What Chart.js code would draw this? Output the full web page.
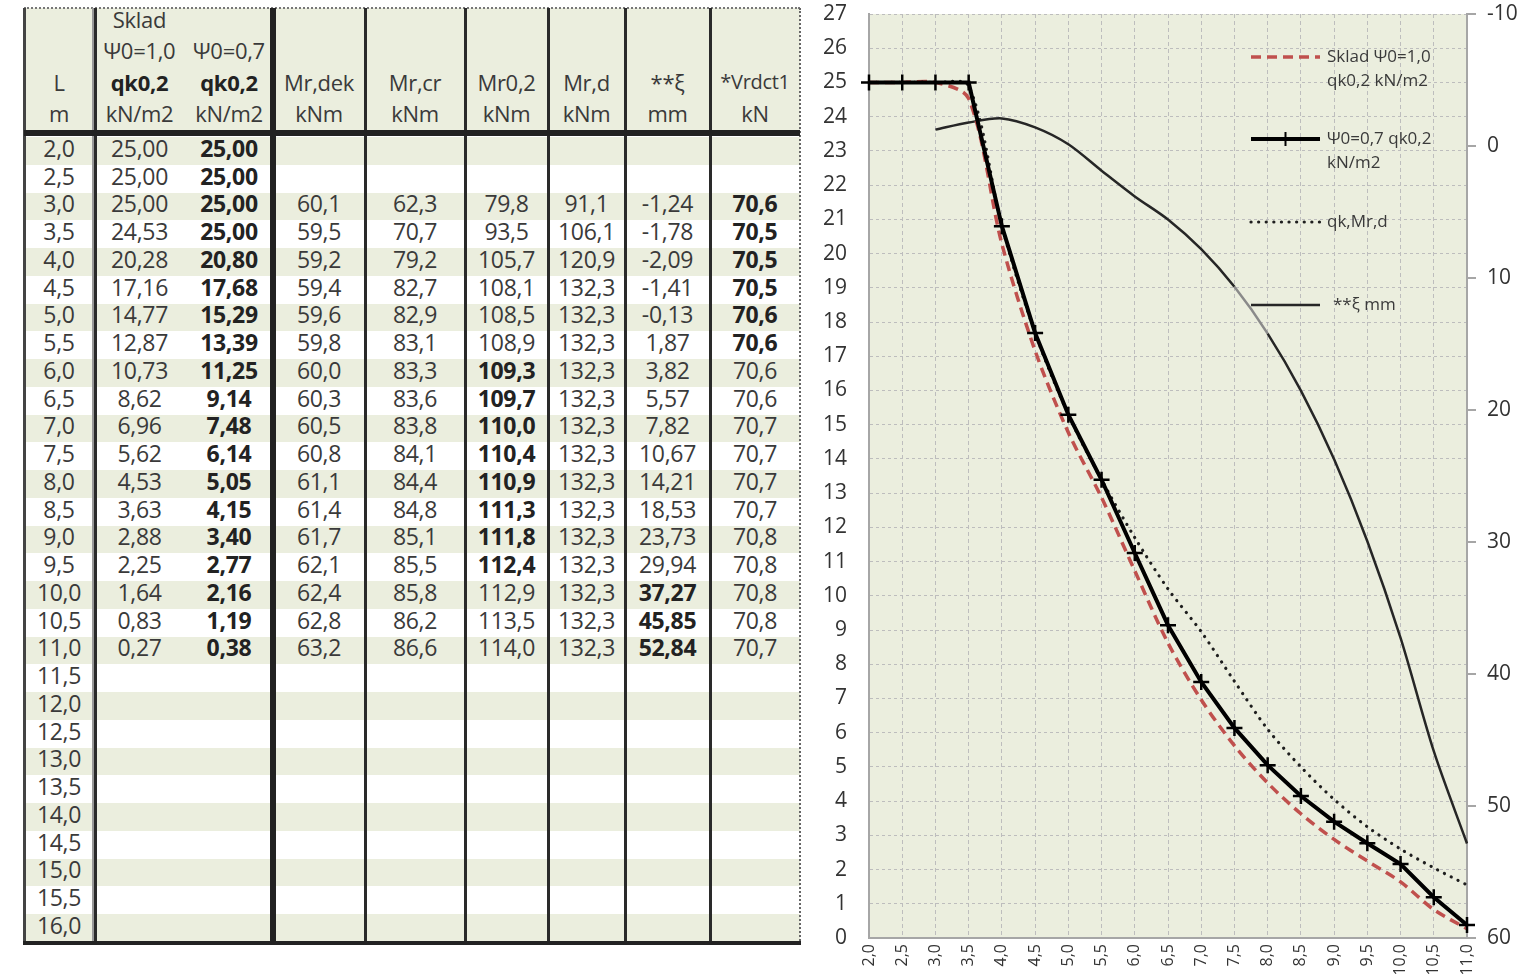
<!DOCTYPE html>
<html>
<head>
<meta charset="utf-8">
<script src="https://cdn.jsdelivr.net/npm/chart.js@4"></script>
<style>
  body { margin: 0; width: 1533px; height: 975px; background: #fff; overflow: hidden; position: relative; font-family: "Open Sans", sans-serif; }
  #tbl { position: absolute; left: 0; top: 0; width: 810px; height: 975px; }
  .c { position: absolute; text-align: center; white-space: nowrap; color: #3a3a3a; letter-spacing: -0.3px; }
  .b { font-weight: 700; color: #222; }
  #wrap { position: absolute; left: 812px; top: 0; width: 721px; height: 975px; }
</style>
</head>
<body>
<div id="tbl"></div>
<div id="wrap"><canvas id="chart"></canvas></div>
<script>
// spans L (m) listed in the table
const spans = [2.0, 2.5, 3.0, 3.5, 4.0, 4.5, 5.0, 5.5, 6.0, 6.5, 7.0, 7.5, 8.0, 8.5, 9.0, 9.5, 10.0, 10.5, 11.0,
  11.5, 12.0, 12.5, 13.0, 13.5, 14.0, 14.5, 15.0, 15.5, 16.0];

// qk0,2 kN/m2
const skladPsi10 = [25.00, 25.00, 25.00, 24.53, 20.28, 17.16, 14.77, 12.87, 10.73, 8.62, 6.96, 5.62, 4.53, 3.63, 2.88, 2.25, 1.64, 0.83, 0.27];
const skladPsi07 = [25.00, 25.00, 25.00, 25.00, 20.80, 17.68, 15.29, 13.39, 11.25, 9.14, 7.48, 6.14, 5.05, 4.15, 3.40, 2.77, 2.16, 1.19, 0.38];

// moments kNm
const mrDek = [null, null, 60.1, 59.5, 59.2, 59.4, 59.6, 59.8, 60.0, 60.3, 60.5, 60.8, 61.1, 61.4, 61.7, 62.1, 62.4, 62.8, 63.2];
const mrCr = [null, null, 62.3, 70.7, 79.2, 82.7, 82.9, 83.1, 83.3, 83.6, 83.8, 84.1, 84.4, 84.8, 85.1, 85.5, 85.8, 86.2, 86.6];
const mr02 = [null, null, 79.8, 93.5, 105.7, 108.1, 108.5, 108.9, 109.3, 109.7, 110.0, 110.4, 110.9, 111.3, 111.8, 112.4, 112.9, 113.5, 114.0];
const mrd = [null, null, 91.1, 106.1, 120.9, 132.3, 132.3, 132.3, 132.3, 132.3, 132.3, 132.3, 132.3, 132.3, 132.3, 132.3, 132.3, 132.3, 132.3];

// **xi mm
const xi = [null, null, -1.24, -1.78, -2.09, -1.41, -0.13, 1.87, 3.82, 5.57, 7.82, 10.67, 14.21, 18.53, 23.73, 29.94, 37.27, 45.85, 52.84];

// *Vrdct1 kN
const vrdct1 = [null, null, 70.6, 70.5, 70.5, 70.5, 70.6, 70.6, 70.6, 70.6, 70.7, 70.7, 70.7, 70.7, 70.8, 70.8, 70.8, 70.8, 70.7];

// qk,Mr,d (dotted line)
const qkMrd = [25.0, 25.0, 25.0, 24.9, 20.8, 17.68, 15.29, 13.39, 11.7, 10.2, 8.95, 7.5, 6.1, 5.0, 4.05, 3.25, 2.6, 2.05, 1.55];

// bold cells in the table
const boldMr02 = [6.0, 6.5, 7.0, 7.5, 8.0, 8.5, 9.0, 9.5];
const boldXi = [10.0, 10.5, 11.0];
const boldVrd = [3.0, 3.5, 4.0, 4.5, 5.0, 5.5];

function fmt(v, d) {
  return v == null ? '' : v.toFixed(d).replace('.', ',');
}

// ---------- table ----------
const tbl = document.getElementById('tbl');
const colX = [24, 94, 185, 273, 365, 465, 548, 625, 710, 800];
const bodyTop = 137, rowH = 27.75;
const green = '#EBEEDE';

function box(x, y, w, h, css) {
  const e = document.createElement('div');
  e.style.cssText = `position:absolute;left:${x}px;top:${y}px;width:${w}px;height:${h}px;${css || ''}`;
  tbl.appendChild(e);
  return e;
}

function cell(col, yc, str, bold, size) {
  const e = document.createElement('div');
  e.className = 'c' + (bold ? ' b' : '');
  const h = 30;
  e.style.left = colX[col] + 'px';
  e.style.width = (colX[col + 1] - colX[col]) + 'px';
  e.style.top = (yc - h / 2) + 'px';
  e.style.height = h + 'px';
  e.style.lineHeight = h + 'px';
  e.style.fontSize = (size || 23) + 'px';
  e.textContent = str;
  tbl.appendChild(e);
}

// header background and striped rows
box(24, 8, 776, 124, 'background:' + green);
spans.forEach((s, i) => {
  if (i % 2 === 0) box(24, bodyTop + i * rowH, 776, rowH, 'background:' + green);
});

// header text
const headRows = [
  ['', 'Sklad', '', '', '', '', '', '', ''],
  ['', 'Ψ0=1,0', 'Ψ0=0,7', '', '', '', '', '', ''],
  ['L', 'qk0,2', 'qk0,2', 'Mr,dek', 'Mr,cr', 'Mr0,2', 'Mr,d', '**ξ', '*Vrdct1'],
  ['m', 'kN/m2', 'kN/m2', 'kNm', 'kNm', 'kNm', 'kNm', 'mm', 'kN']
];
const headY = [19, 50, 82, 113];
headRows.forEach((r, ri) => {
  r.forEach((t, ci) => {
    if (!t) return;
    const bold = ri === 2 && (ci === 1 || ci === 2);
    const size = t === '*Vrdct1' ? 20 : 22;
    cell(ci, headY[ri], t, bold, size);
  });
});

// body text
spans.forEach((s, i) => {
  const yc = bodyTop + i * rowH + rowH / 2 - 3;
  cell(0, yc, fmt(s, 1));
  cell(1, yc, fmt(skladPsi10[i], 2));
  cell(2, yc, fmt(skladPsi07[i], 2), true);
  cell(3, yc, fmt(mrDek[i], 1));
  cell(4, yc, fmt(mrCr[i], 1));
  cell(5, yc, fmt(mr02[i], 1), boldMr02.includes(s));
  cell(6, yc, fmt(mrd[i], 1));
  cell(7, yc, fmt(xi[i], 2), boldXi.includes(s));
  cell(8, yc, fmt(vrdct1[i], 1), boldVrd.includes(s));
});

// table lines
const lineTop = 8, lineBot = 944;
box(24, 7, 776, 0, 'border-top:2px dotted #777');
box(23, lineTop, 3, lineBot - lineTop, 'background:#444');
box(92, lineTop, 2, lineBot - lineTop, 'background:#999');
box(94, lineTop, 3, lineBot - lineTop, 'background:#2a2a2a');
box(270, lineTop, 6, lineBot - lineTop, 'background:#222');
[365, 465, 548, 625, 710].forEach(x => box(x - 1, lineTop, 3, lineBot - lineTop, 'background:#2a2a2a'));
box(799, lineTop, 0, lineBot - lineTop, 'border-left:2px dotted #666');
box(24, 130, 776, 6, 'background:#222');
box(23, 941, 778, 4, 'background:#222');

// ---------- chart ----------
const labels = spans.slice(0, skladPsi10.length).map(v => fmt(v, 1));
const axisGrey = '#A6A6A6';
const gridGrey = '#BDBDBD';
const tickFont = { family: '"Open Sans", sans-serif', size: 21, lineHeight: 1 };

const plotBg = {
  id: 'plotBg',
  beforeDraw(chart) {
    const a = chart.chartArea;
    chart.ctx.save();
    chart.ctx.fillStyle = green;
    chart.ctx.fillRect(a.left, a.top, a.right - a.left, a.bottom - a.top);
    chart.ctx.restore();
  }
};

// short outward tick marks on the right axis
const rightTicks = {
  id: 'rightTicks',
  afterDraw(chart) {
    const s = chart.scales.y2;
    const ctx = chart.ctx;
    ctx.save();
    ctx.strokeStyle = axisGrey;
    ctx.lineWidth = 2;
    s.ticks.forEach(t => {
      const y = Math.round(s.getPixelForValue(t.value));
      ctx.beginPath();
      ctx.moveTo(s.left, y);
      ctx.lineTo(s.left + 9, y);
      ctx.stroke();
    });
    ctx.restore();
  }
};

const sideLegend = {
  id: 'sideLegend',
  afterDraw(chart) {
    const ctx = chart.ctx;
    const entries = [
      { ds: 2, y: 57, lines: ['Sklad Ψ0=1,0', 'qk0,2 kN/m2'], tx: 515 },
      { ds: 0, y: 139, lines: ['Ψ0=0,7 qk0,2', 'kN/m2'], tx: 515 },
      { ds: 1, y: 222, lines: ['qk,Mr,d'], tx: 515 },
      { ds: 3, y: 305, lines: ['**ξ mm'], tx: 521 }
    ];
    const x0 = 439, x1 = 508;
    ctx.save();
    entries.forEach(e => {
      const ds = chart.data.datasets[e.ds];
      ctx.strokeStyle = ds.borderColor;
      ctx.lineWidth = ds.borderWidth;
      ctx.lineCap = ds.borderCapStyle || 'butt';
      ctx.setLineDash(ds.borderDash || []);
      ctx.beginPath();
      ctx.moveTo(x0, e.y);
      ctx.lineTo(x1, e.y);
      ctx.stroke();
      if (ds.pointStyle === 'cross') {
        ctx.setLineDash([]);
        ctx.lineWidth = 2;
        ctx.beginPath();
        ctx.moveTo((x0 + x1) / 2, e.y - 7);
        ctx.lineTo((x0 + x1) / 2, e.y + 7);
        ctx.stroke();
      }
      ctx.fillStyle = '#3a3a3a';
      ctx.font = '17px "Open Sans", sans-serif';
      ctx.textBaseline = 'middle';
      e.lines.forEach((t, k) => ctx.fillText(t, e.tx, e.y + k * 24));
    });
    ctx.restore();
  }
};

new Chart(document.getElementById('chart'), {
  type: 'line',
  data: {
    labels: labels,
    datasets: [
      {
        label: 'Ψ0=0,7 qk0,2 kN/m2',
        data: skladPsi07,
        borderColor: '#000',
        borderWidth: 4,
        pointStyle: 'cross',
        pointRadius: 8,
        pointBorderWidth: 2.5,
        pointBorderColor: '#000',
        tension: 0,
        yAxisID: 'y',
        order: 0
      },
      {
        label: 'qk,Mr,d',
        data: qkMrd,
        borderColor: '#1e1e1e',
        borderWidth: 3.2,
        borderDash: [0.1, 7.5],
        borderCapStyle: 'round',
        pointRadius: 0,
        tension: 0.3,
        yAxisID: 'y',
        order: 1
      },
      {
        label: 'Sklad Ψ0=1,0 qk0,2 kN/m2',
        data: skladPsi10,
        borderColor: '#C0504D',
        borderWidth: 3.5,
        borderDash: [10, 6],
        pointRadius: 0,
        tension: 0.3,
        yAxisID: 'y',
        order: 2
      },
      {
        label: '**ξ mm',
        data: xi,
        borderColor: '#262626',
        borderWidth: 2.5,
        pointRadius: 0,
        tension: 0.3,
        yAxisID: 'y2',
        order: 3,
        segment: {
          borderColor: c => c.p0DataIndex === 11 ? '#8a8a8a' : undefined
        }
      }
    ]
  },
  options: {
    responsive: true,
    maintainAspectRatio: false,
    animation: false,
    layout: { padding: { top: 14 } },
    plugins: { legend: { display: false }, tooltip: { enabled: false } },
    scales: {
      x: {
        afterFit: s => { s.height = 37; },
        grid: { color: gridGrey, drawTicks: false, lineWidth: 1 },
        border: { color: axisGrey, width: 2, dash: [4, 3] },
        ticks: { autoSkip: false, minRotation: 90, maxRotation: 90, padding: 6, color: '#333', font: { family: '"Open Sans", sans-serif', size: 16 } }
      },
      y: {
        position: 'left',
        min: 0,
        max: 27,
        afterFit: s => { s.width = 57; },
        grid: { color: gridGrey, drawTicks: true, tickLength: 20, tickColor: 'rgba(0,0,0,0)', lineWidth: 1 },
        border: { color: axisGrey, width: 2, dash: [3, 3] },
        ticks: { stepSize: 1, padding: 2, color: '#333', font: tickFont }
      },
      y2: {
        position: 'right',
        reverse: true,
        min: -10,
        max: 60,
        afterFit: s => { s.width = 66; },
        grid: { drawOnChartArea: false, drawTicks: true, tickLength: 18, tickColor: 'rgba(0,0,0,0)' },
        border: { color: axisGrey, width: 2 },
        ticks: { stepSize: 10, padding: 2, color: '#333', font: tickFont }
      }
    }
  },
  plugins: [plotBg, rightTicks, sideLegend]
});
</script>
</body>
</html>
